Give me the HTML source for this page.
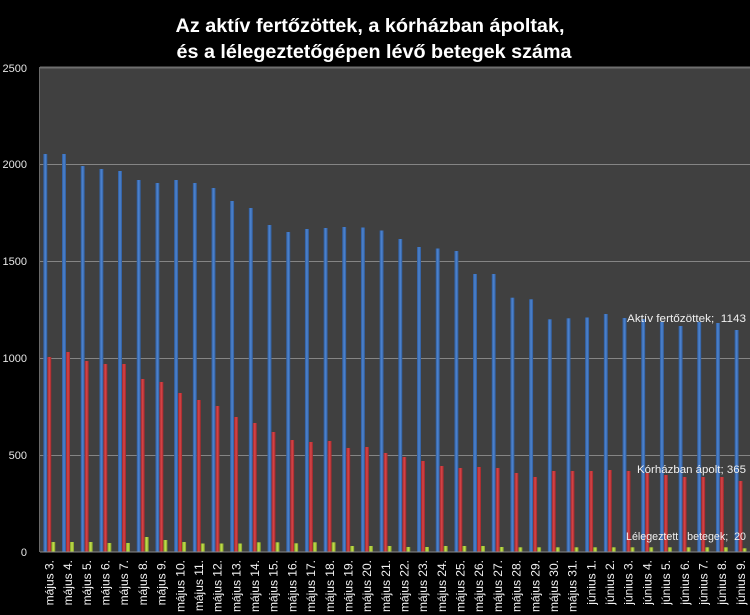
<!DOCTYPE html>
<html><head><meta charset="utf-8"><style>
html,body{margin:0;padding:0;background:#000;}
svg{display:block;}
text{font-family:"Liberation Sans",sans-serif;}
.pre{white-space:pre;}
</style></head><body>
<svg width="750" height="615" viewBox="0 0 750 615" xmlns="http://www.w3.org/2000/svg">
<defs>
<linearGradient id="gb" x1="0" x2="1" y1="0" y2="0"><stop offset="0" stop-color="#2d5a9a"/><stop offset="0.5" stop-color="#4f86d2"/><stop offset="1" stop-color="#2d5a9a"/></linearGradient>
<linearGradient id="gr" x1="0" x2="1" y1="0" y2="0"><stop offset="0" stop-color="#9c2629"/><stop offset="0.5" stop-color="#d94649"/><stop offset="1" stop-color="#9c2629"/></linearGradient>
<linearGradient id="gg" x1="0" x2="1" y1="0" y2="0"><stop offset="0" stop-color="#7a9a24"/><stop offset="0.5" stop-color="#c8e24e"/><stop offset="1" stop-color="#7a9a24"/></linearGradient>
</defs>
<rect width="750" height="615" fill="#000"/>
<text x="370" y="32" text-anchor="middle" font-size="19" font-weight="bold" fill="#fff" textLength="389" lengthAdjust="spacingAndGlyphs">Az aktív fertőzöttek,  a kórházban ápoltak,</text>
<text x="374" y="58" text-anchor="middle" font-size="19" font-weight="bold" fill="#fff" textLength="395" lengthAdjust="spacingAndGlyphs">és a lélegeztetőgépen lévő betegek száma</text>
<rect x="40" y="67" width="710" height="485" fill="#404040"/>
<line x1="40" y1="67.5" x2="750" y2="67.5" stroke="#6e6e6e" stroke-width="2"/>
<line x1="39.5" y1="67" x2="39.5" y2="552" stroke="#6a6a6a" stroke-width="1"/>
<g stroke="#858585" stroke-width="1">
<line x1="40" y1="164.5" x2="750" y2="164.5"/>
<line x1="40" y1="261.5" x2="750" y2="261.5"/>
<line x1="40" y1="358.5" x2="750" y2="358.5"/>
<line x1="40" y1="455.5" x2="750" y2="455.5"/>
</g>
<g font-size="11" fill="#e6e6e6" text-anchor="end">
<text x="27" y="72">2500</text>
<text x="27" y="168">2000</text>
<text x="27" y="265">1500</text>
<text x="27" y="362">1000</text>
<text x="27" y="459">500</text>
<text x="27" y="556">0</text>
</g>
<g>
<g transform="translate(43.3,0)"><rect x="0" y="154" width="4" height="398" fill="url(#gb)"/><rect x="4" y="357" width="4" height="195" fill="url(#gr)"/><rect x="8" y="542" width="4" height="10" fill="url(#gg)"/></g>
<g transform="translate(62.0,0)"><rect x="0" y="154" width="4" height="398" fill="url(#gb)"/><rect x="4" y="352" width="4" height="200" fill="url(#gr)"/><rect x="8" y="542" width="4" height="10" fill="url(#gg)"/></g>
<g transform="translate(80.7,0)"><rect x="0" y="166" width="4" height="386" fill="url(#gb)"/><rect x="4" y="361" width="4" height="191" fill="url(#gr)"/><rect x="8" y="542" width="4" height="10" fill="url(#gg)"/></g>
<g transform="translate(99.4,0)"><rect x="0" y="169" width="4" height="383" fill="url(#gb)"/><rect x="4" y="364" width="4" height="188" fill="url(#gr)"/><rect x="8" y="543" width="4" height="9" fill="url(#gg)"/></g>
<g transform="translate(118.0,0)"><rect x="0" y="171" width="4" height="381" fill="url(#gb)"/><rect x="4" y="364" width="4" height="188" fill="url(#gr)"/><rect x="8" y="543" width="4" height="9" fill="url(#gg)"/></g>
<g transform="translate(136.7,0)"><rect x="0" y="180" width="4" height="372" fill="url(#gb)"/><rect x="4" y="379" width="4" height="173" fill="url(#gr)"/><rect x="8" y="537" width="4" height="15" fill="url(#gg)"/></g>
<g transform="translate(155.4,0)"><rect x="0" y="183" width="4" height="369" fill="url(#gb)"/><rect x="4" y="382" width="4" height="170" fill="url(#gr)"/><rect x="8" y="540" width="4" height="12" fill="url(#gg)"/></g>
<g transform="translate(174.1,0)"><rect x="0" y="180" width="4" height="372" fill="url(#gb)"/><rect x="4" y="393" width="4" height="159" fill="url(#gr)"/><rect x="8" y="542" width="4" height="10" fill="url(#gg)"/></g>
<g transform="translate(192.8,0)"><rect x="0" y="183" width="4" height="369" fill="url(#gb)"/><rect x="4" y="400" width="4" height="152" fill="url(#gr)"/><rect x="8" y="543.5" width="4" height="8.5" fill="url(#gg)"/></g>
<g transform="translate(211.5,0)"><rect x="0" y="188" width="4" height="364" fill="url(#gb)"/><rect x="4" y="406" width="4" height="146" fill="url(#gr)"/><rect x="8" y="543.5" width="4" height="8.5" fill="url(#gg)"/></g>
<g transform="translate(230.1,0)"><rect x="0" y="201" width="4" height="351" fill="url(#gb)"/><rect x="4" y="417" width="4" height="135" fill="url(#gr)"/><rect x="8" y="543.5" width="4" height="8.5" fill="url(#gg)"/></g>
<g transform="translate(248.8,0)"><rect x="0" y="208" width="4" height="344" fill="url(#gb)"/><rect x="4" y="423" width="4" height="129" fill="url(#gr)"/><rect x="8" y="542.3" width="4" height="9.7" fill="url(#gg)"/></g>
<g transform="translate(267.5,0)"><rect x="0" y="225" width="4" height="327" fill="url(#gb)"/><rect x="4" y="432" width="4" height="120" fill="url(#gr)"/><rect x="8" y="542.3" width="4" height="9.7" fill="url(#gg)"/></g>
<g transform="translate(286.2,0)"><rect x="0" y="232" width="4" height="320" fill="url(#gb)"/><rect x="4" y="440" width="4" height="112" fill="url(#gr)"/><rect x="8" y="543.3" width="4" height="8.7" fill="url(#gg)"/></g>
<g transform="translate(304.9,0)"><rect x="0" y="229" width="4" height="323" fill="url(#gb)"/><rect x="4" y="442" width="4" height="110" fill="url(#gr)"/><rect x="8" y="542.3" width="4" height="9.7" fill="url(#gg)"/></g>
<g transform="translate(323.6,0)"><rect x="0" y="228" width="4" height="324" fill="url(#gb)"/><rect x="4" y="441" width="4" height="111" fill="url(#gr)"/><rect x="8" y="542.3" width="4" height="9.7" fill="url(#gg)"/></g>
<g transform="translate(342.2,0)"><rect x="0" y="227" width="4" height="325" fill="url(#gb)"/><rect x="4" y="448" width="4" height="104" fill="url(#gr)"/><rect x="8" y="546" width="4" height="6" fill="url(#gg)"/></g>
<g transform="translate(360.9,0)"><rect x="0" y="227.5" width="4" height="324.5" fill="url(#gb)"/><rect x="4" y="447" width="4" height="105" fill="url(#gr)"/><rect x="8" y="546" width="4" height="6" fill="url(#gg)"/></g>
<g transform="translate(379.6,0)"><rect x="0" y="230.5" width="4" height="321.5" fill="url(#gb)"/><rect x="4" y="453" width="4" height="99" fill="url(#gr)"/><rect x="8" y="546" width="4" height="6" fill="url(#gg)"/></g>
<g transform="translate(398.3,0)"><rect x="0" y="239" width="4" height="313" fill="url(#gb)"/><rect x="4" y="457" width="4" height="95" fill="url(#gr)"/><rect x="8" y="547" width="4" height="5" fill="url(#gg)"/></g>
<g transform="translate(417.0,0)"><rect x="0" y="247" width="4" height="305" fill="url(#gb)"/><rect x="4" y="461" width="4" height="91" fill="url(#gr)"/><rect x="8" y="547" width="4" height="5" fill="url(#gg)"/></g>
<g transform="translate(435.7,0)"><rect x="0" y="248.5" width="4" height="303.5" fill="url(#gb)"/><rect x="4" y="466" width="4" height="86" fill="url(#gr)"/><rect x="8" y="546" width="4" height="6" fill="url(#gg)"/></g>
<g transform="translate(454.4,0)"><rect x="0" y="251" width="4" height="301" fill="url(#gb)"/><rect x="4" y="468" width="4" height="84" fill="url(#gr)"/><rect x="8" y="546" width="4" height="6" fill="url(#gg)"/></g>
<g transform="translate(473.0,0)"><rect x="0" y="274" width="4" height="278" fill="url(#gb)"/><rect x="4" y="467" width="4" height="85" fill="url(#gr)"/><rect x="8" y="546" width="4" height="6" fill="url(#gg)"/></g>
<g transform="translate(491.7,0)"><rect x="0" y="274" width="4" height="278" fill="url(#gb)"/><rect x="4" y="468" width="4" height="84" fill="url(#gr)"/><rect x="8" y="547" width="4" height="5" fill="url(#gg)"/></g>
<g transform="translate(510.4,0)"><rect x="0" y="297.7" width="4" height="254.3" fill="url(#gb)"/><rect x="4" y="473" width="4" height="79" fill="url(#gr)"/><rect x="8" y="547.3" width="4" height="4.7" fill="url(#gg)"/></g>
<g transform="translate(529.1,0)"><rect x="0" y="299.3" width="4" height="252.7" fill="url(#gb)"/><rect x="4" y="477" width="4" height="75" fill="url(#gr)"/><rect x="8" y="547.3" width="4" height="4.7" fill="url(#gg)"/></g>
<g transform="translate(547.8,0)"><rect x="0" y="319.3" width="4" height="232.7" fill="url(#gb)"/><rect x="4" y="471" width="4" height="81" fill="url(#gr)"/><rect x="8" y="547.3" width="4" height="4.7" fill="url(#gg)"/></g>
<g transform="translate(566.5,0)"><rect x="0" y="318.3" width="4" height="233.7" fill="url(#gb)"/><rect x="4" y="471" width="4" height="81" fill="url(#gr)"/><rect x="8" y="547.3" width="4" height="4.7" fill="url(#gg)"/></g>
<g transform="translate(585.1,0)"><rect x="0" y="317.5" width="4" height="234.5" fill="url(#gb)"/><rect x="4" y="471" width="4" height="81" fill="url(#gr)"/><rect x="8" y="547.3" width="4" height="4.7" fill="url(#gg)"/></g>
<g transform="translate(603.8,0)"><rect x="0" y="314" width="4" height="238" fill="url(#gb)"/><rect x="4" y="470" width="4" height="82" fill="url(#gr)"/><rect x="8" y="547.3" width="4" height="4.7" fill="url(#gg)"/></g>
<g transform="translate(622.5,0)"><rect x="0" y="318" width="4" height="234" fill="url(#gb)"/><rect x="4" y="471" width="4" height="81" fill="url(#gr)"/><rect x="8" y="547.3" width="4" height="4.7" fill="url(#gg)"/></g>
<g transform="translate(641.2,0)"><rect x="0" y="319" width="4" height="233" fill="url(#gb)"/><rect x="4" y="473" width="4" height="79" fill="url(#gr)"/><rect x="8" y="547.3" width="4" height="4.7" fill="url(#gg)"/></g>
<g transform="translate(659.9,0)"><rect x="0" y="322" width="4" height="230" fill="url(#gb)"/><rect x="4" y="475" width="4" height="77" fill="url(#gr)"/><rect x="8" y="547.3" width="4" height="4.7" fill="url(#gg)"/></g>
<g transform="translate(678.6,0)"><rect x="0" y="326" width="4" height="226" fill="url(#gb)"/><rect x="4" y="477" width="4" height="75" fill="url(#gr)"/><rect x="8" y="547.3" width="4" height="4.7" fill="url(#gg)"/></g>
<g transform="translate(697.2,0)"><rect x="0" y="322" width="4" height="230" fill="url(#gb)"/><rect x="4" y="477" width="4" height="75" fill="url(#gr)"/><rect x="8" y="547.3" width="4" height="4.7" fill="url(#gg)"/></g>
<g transform="translate(715.9,0)"><rect x="0" y="323" width="4" height="229" fill="url(#gb)"/><rect x="4" y="477" width="4" height="75" fill="url(#gr)"/><rect x="8" y="547.3" width="4" height="4.7" fill="url(#gg)"/></g>
<g transform="translate(734.6,0)"><rect x="0" y="330" width="4" height="222" fill="url(#gb)"/><rect x="4" y="481" width="4" height="71" fill="url(#gr)"/><rect x="8" y="548.3" width="4" height="3.7" fill="url(#gg)"/></g>
</g>
<line x1="40" y1="552" x2="750" y2="552" stroke="#8a8a8a" stroke-width="1"/>
<g font-size="11" fill="#f0f0f0">
<text class="pre" x="627" y="322" textLength="119" lengthAdjust="spacingAndGlyphs">Aktív fertőzöttek;  1143</text>
<text class="pre" x="637" y="473" textLength="109" lengthAdjust="spacingAndGlyphs">Kórházban ápolt; 365</text>
<text class="pre" x="626" y="540" textLength="120" lengthAdjust="spacingAndGlyphs">Lélegeztett   betegek;  20</text>
</g>
<g font-size="12" fill="#f2f2f2" text-anchor="end">
<text transform="translate(49.3,560) rotate(-90)" dy="0.35em">május 3.</text>
<text transform="translate(68.0,560) rotate(-90)" dy="0.35em">május 4.</text>
<text transform="translate(86.7,560) rotate(-90)" dy="0.35em">május 5.</text>
<text transform="translate(105.4,560) rotate(-90)" dy="0.35em">május 6.</text>
<text transform="translate(124.0,560) rotate(-90)" dy="0.35em">május 7.</text>
<text transform="translate(142.7,560) rotate(-90)" dy="0.35em">május 8.</text>
<text transform="translate(161.4,560) rotate(-90)" dy="0.35em">május 9.</text>
<text transform="translate(180.1,560) rotate(-90)" dy="0.35em">május 10.</text>
<text transform="translate(198.8,560) rotate(-90)" dy="0.35em">május 11.</text>
<text transform="translate(217.5,560) rotate(-90)" dy="0.35em">május 12.</text>
<text transform="translate(236.1,560) rotate(-90)" dy="0.35em">május 13.</text>
<text transform="translate(254.8,560) rotate(-90)" dy="0.35em">május 14.</text>
<text transform="translate(273.5,560) rotate(-90)" dy="0.35em">május 15.</text>
<text transform="translate(292.2,560) rotate(-90)" dy="0.35em">május 16.</text>
<text transform="translate(310.9,560) rotate(-90)" dy="0.35em">május 17.</text>
<text transform="translate(329.6,560) rotate(-90)" dy="0.35em">május 18.</text>
<text transform="translate(348.2,560) rotate(-90)" dy="0.35em">május 19.</text>
<text transform="translate(366.9,560) rotate(-90)" dy="0.35em">május 20.</text>
<text transform="translate(385.6,560) rotate(-90)" dy="0.35em">május 21.</text>
<text transform="translate(404.3,560) rotate(-90)" dy="0.35em">május 22.</text>
<text transform="translate(423.0,560) rotate(-90)" dy="0.35em">május 23.</text>
<text transform="translate(441.7,560) rotate(-90)" dy="0.35em">május 24.</text>
<text transform="translate(460.4,560) rotate(-90)" dy="0.35em">május 25.</text>
<text transform="translate(479.0,560) rotate(-90)" dy="0.35em">május 26.</text>
<text transform="translate(497.7,560) rotate(-90)" dy="0.35em">május 27.</text>
<text transform="translate(516.4,560) rotate(-90)" dy="0.35em">május 28.</text>
<text transform="translate(535.1,560) rotate(-90)" dy="0.35em">május 29.</text>
<text transform="translate(553.8,560) rotate(-90)" dy="0.35em">május 30.</text>
<text transform="translate(572.5,560) rotate(-90)" dy="0.35em">május 31.</text>
<text transform="translate(591.1,560) rotate(-90)" dy="0.35em">június 1.</text>
<text transform="translate(609.8,560) rotate(-90)" dy="0.35em">június 2.</text>
<text transform="translate(628.5,560) rotate(-90)" dy="0.35em">június 3.</text>
<text transform="translate(647.2,560) rotate(-90)" dy="0.35em">június 4.</text>
<text transform="translate(665.9,560) rotate(-90)" dy="0.35em">június 5.</text>
<text transform="translate(684.6,560) rotate(-90)" dy="0.35em">június 6.</text>
<text transform="translate(703.2,560) rotate(-90)" dy="0.35em">június 7.</text>
<text transform="translate(721.9,560) rotate(-90)" dy="0.35em">június 8.</text>
<text transform="translate(740.6,560) rotate(-90)" dy="0.35em">június 9.</text>
</g>
</svg>
</body></html>
